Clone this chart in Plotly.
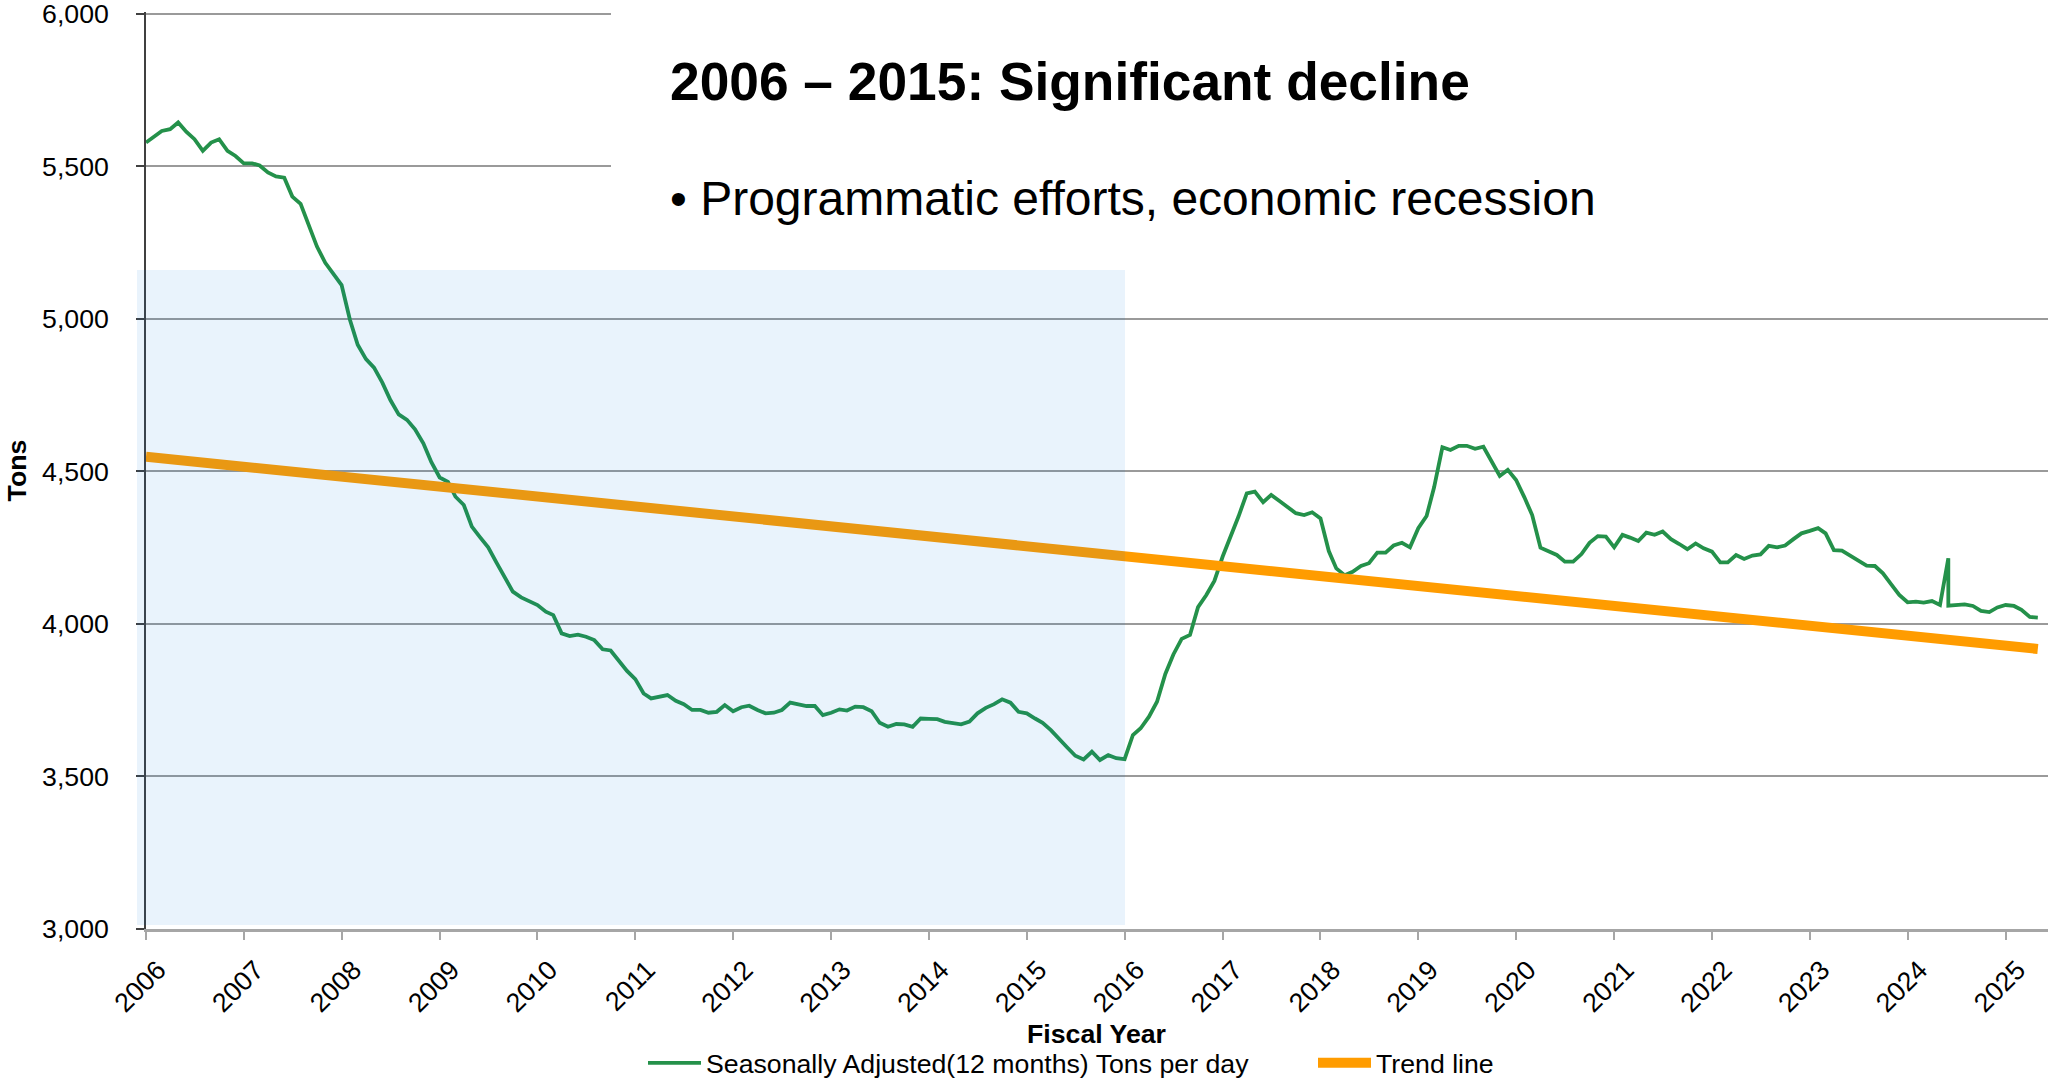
import pandas as pd
import plotly.graph_objects as go

# ---------------- data ----------------
series_name = "Seasonally Adjusted(12 months) Tons per day"
trend_name = "Trend line"

first_month = "2006-01-01"
last_month = "2025-05-01"
spike_month = "2024-06-01"   # month that holds two readings (spike and correction)

tons_per_day = [
    5578, 5597, 5616, 5622, 5644, 5613, 5589, 5551, 5578, 5589, 5551, 5534,   # 2006
    5510, 5510, 5503, 5480, 5467, 5463, 5401, 5377, 5303, 5237, 5184, 5146,   # 2007
    5111, 4997, 4915, 4868, 4840, 4791, 4734, 4687, 4669, 4638, 4592, 4530,   # 2008
    4480, 4466, 4417, 4390, 4319, 4284, 4251, 4201, 4153, 4106, 4087, 4073,   # 2009
    4062, 4040, 4029, 3969, 3960, 3965, 3958, 3947, 3917, 3913, 3877, 3846,   # 2010
    3819, 3772, 3756, 3761, 3767, 3748, 3737, 3718, 3718, 3709, 3712, 3734,   # 2011
    3714, 3727, 3732, 3718, 3707, 3709, 3718, 3742, 3737, 3731, 3731, 3701,   # 2012
    3709, 3720, 3716, 3729, 3727, 3714, 3676, 3663, 3672, 3671, 3663, 3690,   # 2013
    3689, 3688, 3679, 3676, 3671, 3680, 3707, 3725, 3737, 3753, 3742, 3712,   # 2014
    3707, 3690, 3676, 3652, 3626, 3595, 3568, 3556, 3581, 3554, 3570, 3560,   # 2015
    3557, 3636, 3658, 3696, 3745, 3836, 3900, 3951, 3964, 4055, 4095, 4141,   # 2016
    4221, 4287, 4352, 4428, 4434, 4399, 4423, 4403, 4382, 4363, 4357, 4366,   # 2017
    4346, 4239, 4182, 4160, 4171, 4190, 4199, 4234, 4234, 4257, 4266, 4251,   # 2018
    4314, 4354, 4448, 4579, 4570, 4584, 4584, 4574, 4581, 4535, 4485, 4505,   # 2019
    4472, 4415, 4357, 4250, 4237, 4226, 4204, 4204, 4229, 4266, 4288, 4286,   # 2020
    4251, 4292, 4283, 4272, 4299, 4292, 4303, 4278, 4262, 4245, 4264, 4248,   # 2021
    4237, 4202, 4202, 4226, 4213, 4224, 4228, 4256, 4251, 4257, 4278, 4297,   # 2022
    4305, 4314, 4297, 4242, 4240, 4224, 4206, 4191, 4190, 4166, 4130, 4095,   # 2023
    4071, 4073, 4070, 4075, 4062, 4215, 4060, 4062, 4064, 4059, 4043, 4039, 4054,  # 2024 (June twice)
    4062, 4059, 4046, 4023, 4021,                                             # 2025
]

trend_values = [4548, 3918]

title_text = "2006 – 2015: Significant decline"
bullet_text = "• Programmatic efforts, economic recession"
x_title = "Fiscal Year"
y_title = "Tons"
y_ticks = [3000, 3500, 4000, 4500, 5000, 5500, 6000]

# ---------------- build x values ----------------
months = [d.strftime("%Y-%m-%d") for d in pd.date_range(first_month, last_month, freq="MS")]
dates = list(months)
dates.insert(dates.index(spike_month) + 1, spike_month)
trend_dates = [first_month, last_month]

# ---------------- geometry (pixels) ----------------
W, H = 2048, 1081
L, R, T, B = 146, 0, 12, 152
PW, PH = W - L - R, H - T - B


def px_x(px):
    return (px - L) / PW


def px_y(py):
    return (H - B - py) / PH


FONT = "Liberation Sans, Arial, sans-serif"
GREEN = "#24914A"
ORANGE = "#FF9C00"

fig = go.Figure()
fig.add_trace(go.Scatter(
    x=dates, y=tons_per_day, mode="lines", name=series_name,
    line=dict(color=GREEN, width=3.8),
))
fig.add_trace(go.Scatter(
    x=trend_dates, y=trend_values, mode="lines", name=trend_name,
    line=dict(color=ORANGE, width=10),
))

fig.update_layout(
    width=W, height=H,
    margin=dict(l=L, r=R, t=T, b=B, pad=0, autoexpand=False),
    paper_bgcolor="white", plot_bgcolor="white",
    font=dict(family=FONT, size=26.7, color="black"),
    showlegend=True,
    legend=dict(
        orientation="h",
        xref="container", x=643 / W, xanchor="left",
        yref="container", y=(H - 1063) / H, yanchor="middle",
        font=dict(family=FONT, size=26.7, color="black"),
        bgcolor="rgba(0,0,0,0)", itemwidth=53,
        entrywidth=602, entrywidthmode="pixels",
    ),
    xaxis=dict(
        type="date", range=["2006-01-01", "2025-06-08"],
        tick0="2006-01-01", dtick="M12", tickformat="%Y",
        tickangle=-45, ticks="outside", ticklen=8, tickwidth=1.5, tickcolor="#A6A6A6",
        ticklabelstandoff=4, ticklabelshift=12,
        showline=True, linecolor="#A6A6A6", linewidth=2.5,
        showgrid=False, zeroline=False,
        tickfont=dict(family=FONT, size=26.7, color="black"),
        automargin=False,
    ),
    yaxis=dict(
        range=[3000, 6006], tickvals=y_ticks, tickformat=",",
        ticks="outside", ticklen=8, tickwidth=1.5, tickcolor="#404040",
        showline=True, linecolor="#404040", linewidth=1.5,
        showgrid=True, gridcolor="#9A9A9A", gridwidth=1.5,
        zeroline=False,
        tickfont=dict(family=FONT, size=26.7, color="black"),
        ticklabelstandoff=22, ticklabeloverflow="allow",
        title=dict(text="<b>" + y_title + "</b>", font=dict(family=FONT, size=26.7, color="black"),
                   standoff=8),
        automargin=False,
    ),
    shapes=[
        # white text box hiding the upper gridlines
        dict(type="rect", xref="paper", yref="paper",
             x0=px_x(611), x1=1.0, y0=px_y(271), y1=px_y(-2),
             fillcolor="white", line=dict(width=0), layer="above"),
        # translucent highlight of the 2006-2015 period
        dict(type="rect", xref="paper", yref="paper",
             x0=px_x(137), x1=px_x(1125), y0=px_y(925), y1=px_y(270),
             fillcolor="rgba(0,120,215,0.085)", line=dict(width=0), layer="above"),
    ],
    annotations=[
        dict(text="<b>" + title_text + "</b>", xref="paper", yref="paper",
             x=px_x(668), y=px_y(81), xanchor="left", yanchor="middle", showarrow=False,
             font=dict(family=FONT, size=53.3, color="black")),
        dict(text=bullet_text, xref="paper", yref="paper",
             x=px_x(668), y=px_y(198), xanchor="left", yanchor="middle", showarrow=False,
             font=dict(family=FONT, size=48, color="black")),
        # x-axis title
        dict(text="<b>" + x_title + "</b>", xref="paper", yref="paper",
             x=px_x(1096), y=px_y(1034), xanchor="center", yanchor="middle", showarrow=False,
             font=dict(family=FONT, size=26.7, color="black")),
    ],
)

fig.write_html("out.html")
